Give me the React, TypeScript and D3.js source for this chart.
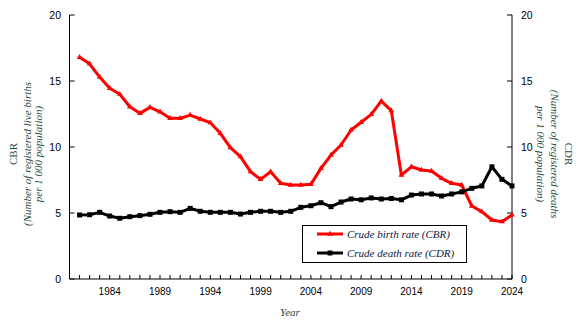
import React from "react";
import * as d3 from "d3";

const width = 579;
const height = 333;
const margin = { top: 15, right: 67, bottom: 54, left: 69.5 };

const years = [
  1981, 1982, 1983, 1984, 1985, 1986, 1987, 1988, 1989, 1990,
  1991, 1992, 1993, 1994, 1995, 1996, 1997, 1998, 1999, 2000,
  2001, 2002, 2003, 2004, 2005, 2006, 2007, 2008, 2009, 2010,
  2011, 2012, 2013, 2014, 2015, 2016, 2017, 2018, 2019, 2020,
  2021, 2022, 2023, 2024,
];

// crude birth rate, per 1 000 population
const cbr = [
  16.8, 16.3, 15.3, 14.45, 14.0, 13.05, 12.55, 13.0, 12.67, 12.17,
  12.17, 12.42, 12.12, 11.84, 11.04, 9.95, 9.27, 8.13, 7.55, 8.13,
  7.25, 7.12, 7.12, 7.17, 8.38, 9.39, 10.15, 11.29, 11.87, 12.47,
  13.48, 12.75, 7.88, 8.5, 8.26, 8.18, 7.63, 7.25, 7.12, 5.53,
  5.1, 4.47, 4.34, 4.85,
];

// crude death rate, per 1 000 population
const cdr = [
  4.85, 4.87, 5.05, 4.77, 4.6, 4.72, 4.8, 4.9, 5.05, 5.1,
  5.05, 5.35, 5.13, 5.05, 5.05, 5.05, 4.92, 5.05, 5.13, 5.13,
  5.05, 5.13, 5.43, 5.55, 5.78, 5.48, 5.83, 6.06, 6.0, 6.14,
  6.06, 6.1, 6.0, 6.36, 6.44, 6.44, 6.29, 6.44, 6.6, 6.87,
  7.05, 8.5, 7.55, 7.05,
];

const yTicks = [0, 5, 10, 15, 20];
const xLabels = [1984, 1989, 1994, 1999, 2004, 2009, 2014, 2019, 2024];

const titleColor = "#1f4a3a";
const legendColor = "#0a1640";
const serif = "'Liberation Serif', 'Times New Roman', serif";
const sans = "'Liberation Sans', Arial, sans-serif";

const x = d3.scaleLinear().domain([1980, 2024]).range([margin.left, width - margin.right]);
const yLeft = d3.scaleLinear().domain([0, 20]).range([height - margin.bottom, margin.top]);
const yRight = d3.scaleLinear().domain([0, 20]).range([height - margin.bottom, margin.top]);

const line = d3.line<number>().x((d, i) => x(years[i]));
const cbrPath = line.y(d => yLeft(d))(cbr) as string;
const cdrPath = line.y(d => yRight(d))(cdr) as string;

const tri = d3.symbol().type(d3.symbolTriangle).size(14)() as string;

export default function App() {
  const x0 = x.range()[0];
  const x1 = x.range()[1];
  const yb = yLeft(0);
  const yt = yLeft(20);
  const midY = 154;

  return (
    <svg width={width} height={height} style={{ position: "absolute", left: 0, top: 0, background: "#fff" }}>
      {/* axes frame */}
      <line x1={x0} x2={x0} y1={yt} y2={yb} stroke="#000" strokeWidth={1} />
      <line x1={x1} x2={x1} y1={yt} y2={yb} stroke="#000" strokeWidth={1} />
      <line x1={x0} x2={x1} y1={yb} y2={yb} stroke="#000" strokeWidth={1} />

      {/* left y ticks */}
      {yTicks.map(t => (
        <g key={"l" + t}>
          <line x1={x0} x2={x0 + 5} y1={yLeft(t)} y2={yLeft(t)} stroke="#000" />
          <text x={61} y={yLeft(t)} dy="0.35em" textAnchor="end" fontFamily={sans} fontSize={10.5}>{t}</text>
        </g>
      ))}

      {/* right y ticks */}
      {yTicks.map(t => (
        <g key={"r" + t}>
          <line x1={x1 - 5} x2={x1} y1={yRight(t)} y2={yRight(t)} stroke="#000" />
          <text x={521} y={yRight(t)} dy="0.35em" textAnchor="start" fontFamily={sans} fontSize={10.5}>{t}</text>
        </g>
      ))}

      {/* x ticks, one per year */}
      {years.map(yr => (
        <line key={yr} x1={x(yr)} x2={x(yr)} y1={yb} y2={yb - 4} stroke="#000" />
      ))}
      {xLabels.map(yr => (
        <text key={yr} x={x(yr)} y={295} textAnchor="middle" fontFamily={sans} fontSize={10}>{yr}</text>
      ))}
      <text x={290} y={316} textAnchor="middle" fontFamily={serif} fontStyle="italic" fontSize={11} fill={titleColor}>Year</text>

      {/* left title */}
      <g fontFamily={serif} fontSize={11} fill={titleColor} textAnchor="middle">
        <text transform={`translate(17,${midY}) rotate(-90)`}>CBR</text>
        <text transform={`translate(31,${midY}) rotate(-90)`} fontStyle="italic">(Number of registered live births</text>
        <text transform={`translate(42,${midY}) rotate(-90)`} fontStyle="italic">per 1 000 population)</text>
      </g>

      {/* right title */}
      <g fontFamily={serif} fontSize={11} fill={titleColor} textAnchor="middle">
        <text transform={`translate(565,${midY}) rotate(90)`}>CDR</text>
        <text transform={`translate(551,${midY}) rotate(90)`} fontStyle="italic">(Number of registered deaths</text>
        <text transform={`translate(537,${midY}) rotate(90)`} fontStyle="italic">per 1 000 population)</text>
      </g>

      {/* series */}
      <path d={cbrPath} fill="none" stroke="#ff0000" strokeWidth={3} strokeLinejoin="round" />
      {cbr.map((d, i) => (
        <path key={"c" + i} d={tri} transform={`translate(${x(years[i])},${yLeft(d)})`} fill="#ff0000" />
      ))}
      <path d={cdrPath} fill="none" stroke="#000" strokeWidth={3} strokeLinejoin="round" />
      {cdr.map((d, i) => (
        <rect key={"d" + i} x={x(years[i]) - 2.5} y={yRight(d) - 2.5} width={5} height={5} fill="#000" />
      ))}

      {/* legend */}
      <rect x={302.5} y={225.5} width={164} height={37} fill="#fff" stroke="#000" strokeWidth={1} />
      <line x1={317} x2={343} y1={234} y2={234} stroke="#ff0000" strokeWidth={3} />
      <path d={tri} transform="translate(330,234)" fill="#ff0000" />
      <text x={347} y={237.5} fontFamily={serif} fontStyle="italic" fontSize={11} fill={legendColor}>Crude birth rate (CBR)</text>
      <line x1={317} x2={343} y1={253} y2={253} stroke="#000" strokeWidth={3} />
      <rect x={327.5} y={250.5} width={5} height={5} fill="#000" />
      <text x={347} y={256.5} fontFamily={serif} fontStyle="italic" fontSize={11} fill={legendColor}>Crude death rate (CDR)</text>
    </svg>
  );
}
